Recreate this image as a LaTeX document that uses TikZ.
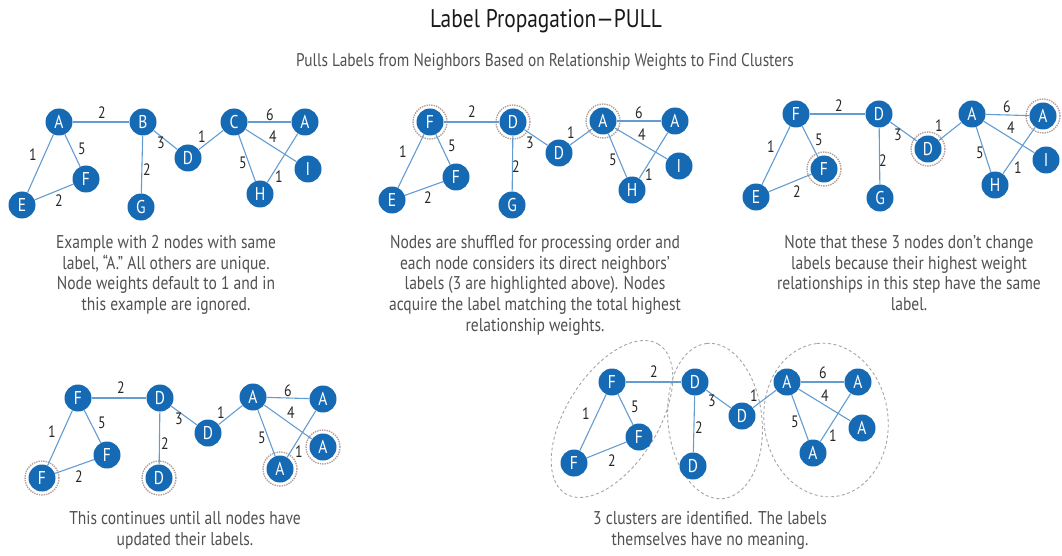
\documentclass[tikz,border=0pt]{standalone}
\usepackage{fontspec}
\setmainfont[FakeStretch=0.84]{PT Sans}
\definecolor{nodeblue}{RGB}{22,106,180}
\definecolor{edgeblue}{RGB}{98,156,210}
\definecolor{ringgray}{RGB}{178,158,155}
\definecolor{captiongray}{RGB}{80,80,80}
\definecolor{clustergray}{RGB}{165,165,165}
\tikzset{
  vert/.style={circle, fill=nodeblue, text=white, minimum size=27pt, inner sep=0pt,
    font=\fontsize{18.5}{18.5}\selectfont},
  rel/.style={draw=edgeblue, line width=1.1pt},
  wt/.style={font=\fontsize{16.5}{16.5}\selectfont, text=black!85, inner sep=0pt},
  ring/.style={circle, draw=ringgray, densely dotted, line width=1.4pt, minimum size=34pt, inner sep=0pt},
  cluster/.style={draw=clustergray, dash pattern=on 3pt off 2.5pt, line width=0.9pt},
  caption/.style={align=center, text=captiongray, inner sep=0pt, anchor=north,
    font=\fontsize{18.5}{20.8}\selectfont},
}
\begin{document}
\begin{tikzpicture}[x=1pt, y=-1pt]
\useasboundingbox (0,0) rectangle (1062,556);

% headings
\node[font=\fontsize{25.5}{25.5}\selectfont, text=black!90] (title) at (546,21) {Label Propagation---PULL};
\node[font=\fontsize{18.3}{18.3}\selectfont, text=captiongray] (subtitle) at (545,62)
  {Pulls Labels from Neighbors Based on Relationship Weights to Find Clusters};

% ---------- step 1: initial labels ----------
\node[vert] (p1a)  at (59,122)  {A};
\node[vert] (p1b)  at (143,122) {B};
\node[vert] (p1d)  at (188,158) {D};
\node[vert] (p1c)  at (234,122) {C};
\node[vert] (p1a2) at (305,122) {A};
\node[vert] (p1i)  at (308,169) {I};
\node[vert] (p1h)  at (260,194) {H};
\node[vert] (p1f)  at (86,179)  {F};
\node[vert] (p1e)  at (22,205)  {E};
\node[vert] (p1g)  at (141,207) {G};
\draw[rel] (p1a) -- (p1b);  \draw[rel] (p1a) -- (p1e);  \draw[rel] (p1a) -- (p1f);
\draw[rel] (p1e) -- (p1f);  \draw[rel] (p1b) -- (p1d);  \draw[rel] (p1b) -- (p1g);
\draw[rel] (p1d) -- (p1c);  \draw[rel] (p1c) -- (p1a2); \draw[rel] (p1c) -- (p1i);
\draw[rel] (p1c) -- (p1h);  \draw[rel] (p1h) -- (p1a2);
\node[wt] at (102,113) {2}; \node[wt] at (33,155) {1};  \node[wt] at (82,149) {5};
\node[wt] at (59,201) {2};  \node[wt] at (161,143) {3}; \node[wt] at (147,170) {2};
\node[wt] at (202,137) {1}; \node[wt] at (270,115) {6}; \node[wt] at (273,137) {4};
\node[wt] at (243,163) {5}; \node[wt] at (279,177) {1};
\node[caption] (cap1) at (166,235) {Example with 2 nodes with same\\label, “A.” All others are unique.\\Node weights default to 1 and in\\this example are ignored.};

% ---------- step 2: first pulls ----------
\node[vert] (p2f)  at (430,122) {F};
\node[vert] (p2d)  at (513,122) {D};
\node[vert] (p2d2) at (559,153) {D};
\node[vert] (p2a)  at (603,121) {A};
\node[vert] (p2a2) at (675,121) {A};
\node[vert] (p2i)  at (679,166) {I};
\node[vert] (p2h)  at (632,190) {H};
\node[vert] (p2f2) at (456,177) {F};
\node[vert] (p2e)  at (392,200) {E};
\node[vert] (p2g)  at (512,205) {G};
\node[ring] (p2rf) at (p2f.center) {};
\node[ring] (p2rd) at (p2d.center) {};
\node[ring] (p2ra) at (p2a.center) {};
\draw[rel] (p2f) -- (p2d);  \draw[rel] (p2f) -- (p2e);  \draw[rel] (p2f) -- (p2f2);
\draw[rel] (p2e) -- (p2f2); \draw[rel] (p2d) -- (p2d2); \draw[rel] (p2d) -- (p2g);
\draw[rel] (p2d2) -- (p2a); \draw[rel] (p2a) -- (p2a2); \draw[rel] (p2a) -- (p2i);
\draw[rel] (p2a) -- (p2h);  \draw[rel] (p2h) -- (p2a2);
\node[wt] at (472,112) {2}; \node[wt] at (403,152) {1}; \node[wt] at (452,146) {5};
\node[wt] at (428,198) {2}; \node[wt] at (530,143) {3}; \node[wt] at (516,167) {2};
\node[wt] at (571,133) {1}; \node[wt] at (639,113) {6}; \node[wt] at (642,135) {4};
\node[wt] at (613,160) {5}; \node[wt] at (649,175) {1};
\node[caption] (cap2) at (535,235) {Nodes are shuffled for processing order and\\each node considers its direct neighbors’\\labels (3 are highlighted above). Nodes\\acquire the label matching the total highest\\relationship weights.};

% ---------- step 3: unchanged nodes ----------
\node[vert] (p3f)  at (796,114)  {F};
\node[vert] (p3d)  at (879,114)  {D};
\node[vert] (p3d2) at (928,149)  {D};
\node[vert] (p3a)  at (972,114)  {A};
\node[vert] (p3a2) at (1043,116) {A};
\node[vert] (p3i)  at (1046,160) {I};
\node[vert] (p3h)  at (995,185)  {H};
\node[vert] (p3f2) at (824,169)  {F};
\node[vert] (p3e)  at (756,197)  {E};
\node[vert] (p3g)  at (880,198)  {G};
\node[ring] (p3rd) at (p3d2.center) {};
\node[ring] (p3ra) at (p3a2.center) {};
\node[ring] (p3rf) at (p3f2.center) {};
\draw[rel] (p3f) -- (p3d);  \draw[rel] (p3f) -- (p3e);  \draw[rel] (p3f) -- (p3f2);
\draw[rel] (p3e) -- (p3f2); \draw[rel] (p3d) -- (p3d2); \draw[rel] (p3d) -- (p3g);
\draw[rel] (p3d2) -- (p3a); \draw[rel] (p3a) -- (p3a2); \draw[rel] (p3a) -- (p3i);
\draw[rel] (p3a) -- (p3h);  \draw[rel] (p3h) -- (p3a2);
\node[wt] at (839,106) {2}; \node[wt] at (771,147) {1};  \node[wt] at (819,140) {5};
\node[wt] at (797,192) {2}; \node[wt] at (898,135) {3};  \node[wt] at (883,161) {2};
\node[wt] at (939,126) {1}; \node[wt] at (1007,107) {6}; \node[wt] at (1011,128) {4};
\node[wt] at (980,153) {5}; \node[wt] at (1018,168) {1};
\node[caption] (cap3) at (909,235) {Note that these 3 nodes don’t change\\labels because their highest weight\\relationships in this step have the same\\label.};

% ---------- step 4: all labels updated ----------
\node[vert] (p4f)  at (78,398)  {F};
\node[vert] (p4d)  at (160,398) {D};
\node[vert] (p4d2) at (208,433) {D};
\node[vert] (p4a)  at (253,397) {A};
\node[vert] (p4a2) at (323,399) {A};
\node[vert] (p4a3) at (323,447) {A};
\node[vert] (p4a4) at (280,469) {A};
\node[vert] (p4f2) at (107,455) {F};
\node[vert] (p4f3) at (42,478)  {F};
\node[vert] (p4d3) at (159,478) {D};
\node[ring] (p4rf) at (p4f3.center) {};
\node[ring] (p4rd) at (p4d3.center) {};
\node[ring] (p4ra) at (p4a4.center) {};
\node[ring] (p4rb) at (p4a3.center) {};
\draw[rel] (p4f) -- (p4d);   \draw[rel] (p4f) -- (p4f3);  \draw[rel] (p4f) -- (p4f2);
\draw[rel] (p4f3) -- (p4f2); \draw[rel] (p4d) -- (p4d2);  \draw[rel] (p4d) -- (p4d3);
\draw[rel] (p4d2) -- (p4a);  \draw[rel] (p4a) -- (p4a2);  \draw[rel] (p4a) -- (p4a3);
\draw[rel] (p4a) -- (p4a4);  \draw[rel] (p4a4) -- (p4a2);
\node[wt] at (121,388) {2}; \node[wt] at (52,432) {1};  \node[wt] at (102,423) {5};
\node[wt] at (79,477) {2};  \node[wt] at (179,419) {3}; \node[wt] at (165,444) {2};
\node[wt] at (221,413) {1}; \node[wt] at (288,391) {6}; \node[wt] at (291,413) {4};
\node[wt] at (262,438) {5}; \node[wt] at (299,452) {1};
\node[caption] (cap4) at (185,511) {This continues until all nodes have\\updated their labels.};

% ---------- step 5: clusters ----------
\draw[cluster, rotate around={58:(612,419)}] (612,419) ellipse [x radius=88pt, y radius=46pt];
\draw[cluster, rotate around={96:(715,421)}] (715,421) ellipse [x radius=78pt, y radius=47pt];
\draw[cluster, rotate around={97:(826,420)}] (826,420) ellipse [x radius=77pt, y radius=62pt];
\node[vert] (p5f)  at (612,382) {F};
\node[vert] (p5d)  at (695,382) {D};
\node[vert] (p5d2) at (742,416) {D};
\node[vert] (p5a)  at (787,382) {A};
\node[vert] (p5a2) at (858,382) {A};
\node[vert] (p5a3) at (862,428) {A};
\node[vert] (p5a4) at (813,453) {A};
\node[vert] (p5f2) at (639,437) {F};
\node[vert] (p5f3) at (574,463) {F};
\node[vert] (p5d3) at (693,466) {D};
\draw[rel] (p5f) -- (p5d);   \draw[rel] (p5f) -- (p5f3);  \draw[rel] (p5f) -- (p5f2);
\draw[rel] (p5f3) -- (p5f2); \draw[rel] (p5d) -- (p5d2);  \draw[rel] (p5d) -- (p5d3);
\draw[rel] (p5d2) -- (p5a);  \draw[rel] (p5a) -- (p5a2);  \draw[rel] (p5a) -- (p5a3);
\draw[rel] (p5a) -- (p5a4);  \draw[rel] (p5a4) -- (p5a2);
\node[wt] at (654,372) {2}; \node[wt] at (586,414) {1}; \node[wt] at (635,407) {5};
\node[wt] at (612,461) {2}; \node[wt] at (712,401) {3}; \node[wt] at (699,428) {2};
\node[wt] at (754,396) {1}; \node[wt] at (823,373) {6}; \node[wt] at (825,396) {4};
\node[wt] at (795,422) {5}; \node[wt] at (833,436) {1};
\node[caption] (cap5) at (710,511) {3 clusters are identified. The labels\\themselves have no meaning.};
\end{tikzpicture}
\end{document}
